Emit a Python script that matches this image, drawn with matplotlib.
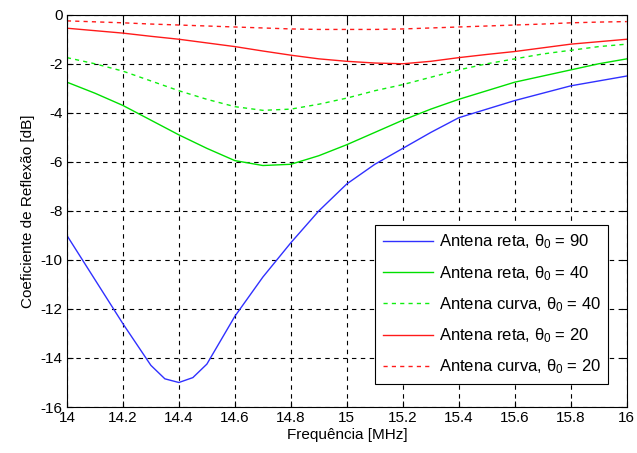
import numpy as np
import matplotlib
matplotlib.use('Agg')
import matplotlib.pyplot as plt

plt.rcParams['font.family'] = ['Liberation Sans', 'DejaVu Sans']
plt.rcParams['mathtext.fontset'] = 'custom'
plt.rcParams['mathtext.rm'] = 'Liberation Sans'
plt.rcParams['mathtext.it'] = 'Liberation Sans'
plt.rcParams['axes.unicode_minus'] = False

# frequency points [MHz]
freq = [14.0, 14.1, 14.2, 14.3, 14.4, 14.5, 14.6, 14.7, 14.8, 14.9, 15.0,
        15.1, 15.2, 15.3, 15.4, 15.5, 15.6, 15.7, 15.8, 15.9, 16.0]

# straight antenna, theta0 = 90 (sampled finer around the minimum)
freq_reta90 = [14.0, 14.1, 14.2, 14.3, 14.35, 14.4, 14.45, 14.5, 14.6, 14.7, 14.8, 14.9, 15.0,
               15.1, 15.2, 15.3, 15.4, 15.5, 15.6, 15.7, 15.8, 15.9, 16.0]
reta90 = [-9.0, -10.8, -12.6, -14.3, -14.85, -15.0, -14.8, -14.25, -12.3, -10.7, -9.3, -8.0, -6.9,
          -6.1, -5.45, -4.8, -4.2, -3.85, -3.5, -3.2, -2.9, -2.7, -2.5]

reta40 = [-2.75, -3.2, -3.7, -4.3, -4.9, -5.45, -5.95, -6.15, -6.1, -5.75, -5.3,
          -4.8, -4.3, -3.85, -3.45, -3.1, -2.75, -2.5, -2.25, -2.0, -1.8]
curva40 = [-1.75, -2.0, -2.3, -2.7, -3.1, -3.45, -3.75, -3.9, -3.85, -3.65, -3.4,
           -3.1, -2.85, -2.55, -2.25, -2.0, -1.8, -1.6, -1.45, -1.3, -1.2]
reta20 = [-0.55, -0.65, -0.75, -0.88, -1.0, -1.15, -1.3, -1.48, -1.65, -1.8, -1.9,
          -1.97, -2.0, -1.9, -1.75, -1.62, -1.5, -1.35, -1.2, -1.1, -1.0]
curva20 = [-0.25, -0.29, -0.33, -0.38, -0.42, -0.46, -0.5, -0.54, -0.58, -0.6, -0.6,
           -0.6, -0.58, -0.54, -0.5, -0.46, -0.42, -0.38, -0.33, -0.3, -0.28]

labels = [r'Antena reta, $\theta_0$ = 90', r'Antena reta, $\theta_0$ = 40',
          r'Antena curva, $\theta_0$ = 40', r'Antena reta, $\theta_0$ = 20',
          r'Antena curva, $\theta_0$ = 20']

xticks = np.arange(14, 16.01, 0.2)
yticks = np.arange(-16, 0.1, 2)

fig = plt.figure(figsize=(6.37, 4.53), dpi=100)
ax = fig.add_axes([0.105, 0.1015, 0.879, 0.866])

ax.plot(freq_reta90, reta90, color='#3030ff', lw=1, label=labels[0])
ax.plot(freq, reta40, color='#00e000', lw=1, label=labels[1])
ax.plot(freq, curva40, color='#10ee10', lw=1, ls=(0, (3, 3)), label=labels[2])
ax.plot(freq, reta20, color='#ff1a1a', lw=1, label=labels[3])
ax.plot(freq, curva20, color='#ff1a1a', lw=1, ls=(0, (3, 3)), label=labels[4])

ax.set_xlim(14, 16)
ax.set_ylim(-16, 0)
ax.set_xticks(xticks)
ax.set_xticklabels(['14', '14.2', '14.4', '14.6', '14.8', '15', '15.2', '15.4', '15.6', '15.8', '16'])
ax.set_yticks(yticks)
ax.set_yticklabels([str(int(v)) for v in yticks])
ax.tick_params(labelsize=11, direction='in', top=True, right=True, length=4)
ax.tick_params(axis='x', pad=3)
ax.tick_params(axis='y', pad=3)
ax.grid(True, color='black', ls=(0, (4, 4)), lw=0.8)
ax.set_xlabel('Frequência [MHz]', fontsize=11, labelpad=2)
ax.set_ylabel('Coeficiente de Reflexão [dB]', fontsize=11, labelpad=4)

leg = ax.legend(loc='lower right', bbox_to_anchor=(0.982, 0.038), fontsize=12,
                fancybox=False, framealpha=1, edgecolor='black', handlelength=3.0,
                handletextpad=0.35, labelspacing=0.75, borderpad=0.45)
leg.get_frame().set_linewidth(0.8)

fig.savefig('out.png', dpi=100)
